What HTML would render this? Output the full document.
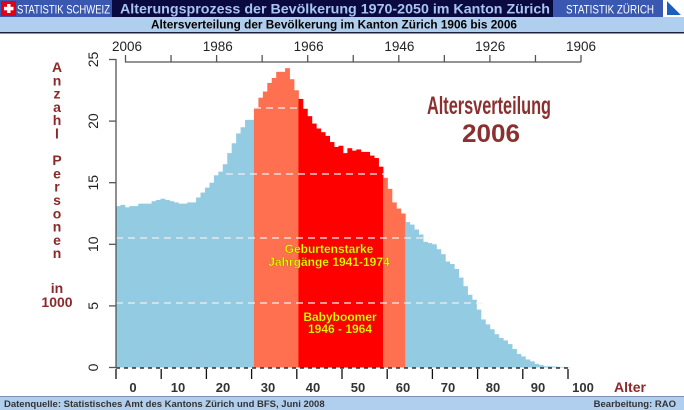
<!DOCTYPE html>
<html><head><meta charset="utf-8"><style>
body{margin:0;width:684px;height:410px;overflow:hidden;background:#fff;font-family:"Liberation Sans",sans-serif;}
svg{display:block}
</style></head><body>
<svg id="s" width="684" height="410" xmlns="http://www.w3.org/2000/svg" font-family="Liberation Sans, sans-serif">
<rect x="0" y="0" width="684" height="17" fill="#0a0a40"/>
<rect x="0" y="0" width="112" height="17" fill="#3a58b0"/>
<rect x="1" y="1" width="15" height="15" fill="#e0001a"/>
<rect x="7" y="4" width="3.5" height="9" fill="#fff"/><rect x="4" y="6.8" width="9.5" height="3.5" fill="#fff"/>
<text x="17" y="13.5" font-size="12" fill="#fff" textLength="93" lengthAdjust="spacingAndGlyphs">STATISTIK SCHWEIZ</text>
<text x="120" y="13.5" font-size="14" font-weight="bold" fill="#a8c4f0" textLength="430" lengthAdjust="spacingAndGlyphs">Alterungsprozess der Bevölkerung 1970-2050 im Kanton Zürich</text>
<rect x="553" y="0" width="110" height="17" fill="#3a58b0"/>
<text x="566" y="13.5" font-size="12" fill="#fff" textLength="88" lengthAdjust="spacingAndGlyphs">STATISTIK ZÜRICH</text>
<rect x="663" y="0" width="21" height="17" fill="#fff"/>
<polygon points="667,1 681,15 667,15" fill="#1a5fc0"/>
<polygon points="667,1 681,1 681,15" fill="#fff"/>
<rect x="0" y="17" width="684" height="15" fill="#b0cfee"/>
<text x="334" y="28.5" font-size="12" font-weight="bold" fill="#000" text-anchor="middle" textLength="366" lengthAdjust="spacingAndGlyphs">Altersverteilung der Bevölkerung im Kanton Zürich 1906 bis 2006</text>
<rect x="0" y="32" width="684" height="1.5" fill="#202040"/>
<g id="bars"></g>
<g id="ax" stroke="#555" stroke-width="1.3" fill="none"></g>
<g font-size="14" fill="#222" id="lab"></g>
<g fill="#8b2a2a" font-weight="bold" font-size="14" text-anchor="middle" id="yl"></g>
<text x="427" y="114" font-size="25" font-weight="bold" fill="#8b3030" textLength="124" lengthAdjust="spacingAndGlyphs">Altersverteilung</text>
<text x="491" y="142" font-size="25" font-weight="bold" fill="#8b3030" text-anchor="middle" textLength="58" lengthAdjust="spacingAndGlyphs">2006</text>
<g font-size="12" font-weight="bold" fill="#ffff00" text-anchor="middle" stroke="#806000" stroke-width="0.3">
<text x="329" y="253">Geburtenstarke</text>
<text x="329" y="266">Jahrgänge 1941-1974</text>
<text x="340" y="321">Babyboomer</text>
<text x="340" y="333">1946 - 1964</text>
</g>
<text x="630" y="392" font-size="14" font-weight="bold" fill="#8b2a2a" text-anchor="middle">Alter</text>
<rect x="0" y="396" width="684" height="14" fill="#b0cfee"/>
<rect x="0" y="396" width="684" height="1" fill="#8090b0"/>
<text x="4" y="407" font-size="9.5" font-weight="bold" fill="#333">Datenquelle: Statistisches Amt des Kantons Zürich und BFS, Juni  2008</text>
<text x="676" y="407" font-size="9.5" font-weight="bold" fill="#333" text-anchor="end">Bearbeitung: RAO</text>
</svg>
<script>
var NS="http://www.w3.org/2000/svg";
function el(p,t,a,txt){var e=document.createElementNS(NS,t);for(var k in a)e.setAttribute(k,a[k]);if(txt!==undefined)e.textContent=txt;p.appendChild(e);return e;}
var v=[13.1,13.2,13.0,13.1,13.1,13.3,13.3,13.3,13.5,13.6,13.7,13.6,13.5,13.4,13.3,13.3,13.4,13.4,13.8,14.2,14.6,15.0,15.6,15.9,16.5,17.4,18.2,19.0,19.5,20.1,20.1,
21.1,21.9,22.4,23.1,23.5,24.0,24.0,24.3,23.4,22.5,
21.8,21.0,20.4,19.8,19.4,19.1,18.8,18.3,17.9,18.0,17.4,17.8,17.6,17.7,17.5,17.5,17.2,17.0,16.3,
15.4,14.5,13.4,12.9,12.5,
11.8,11.6,11.2,10.8,10.2,10.1,10.0,9.6,9.2,8.6,8.4,8.0,7.3,6.6,5.9,5.5,4.7,3.9,3.5,3.1,2.7,2.4,2.2,1.9,1.5,1.1,0.9,0.65,0.5,0.3,0.2,0.1,0.1,0.08,0.05,0.05,0.03];
var X0=116,W=4.45,Y0=367.5,U=12.32;
var b=document.getElementById('bars');
for(var i=0;i<v.length;i++){var c='#92cbe2';if(i>=31&&i<=40)c='#ff7050';else if(i>=41&&i<=59)c='#ff0000';else if(i>=60&&i<=64)c='#ff7050';
var h=v[i]*U;el(b,'rect',{x:X0+i*W,y:Y0-h,width:W+0.4,height:h,fill:c});}
function dash(y,x1,x2){el(b,'line',{x1:x1,x2:x2,y1:y,y2:y,stroke:'#f0f0f0','stroke-width':1.3,'stroke-dasharray':'7,5'});}
dash(108,254,300);dash(174,226,384);dash(238,116,430);dash(303,116,488);
el(b,'line',{x1:116,x2:568,y1:368,y2:368,stroke:'#333','stroke-width':1.5,'stroke-dasharray':'4,4'});
var ax=document.getElementById('ax');
el(ax,'line',{x1:116,y1:59,x2:116,y2:368});
for(var k=0;k<=5;k++){var y=Y0-k*5*U;el(ax,'line',{x1:109,x2:116,y1:y,y2:y});}
el(ax,'line',{x1:125,x2:581,y1:62,y2:62});
for(var k=0;k<=10;k++){var x=125.5+k*45.55;el(ax,'line',{x1:x,x2:x,y1:55,y2:62});}
for(var k=0;k<=10;k++){var x=116+k*45.2;el(ax,'line',{x1:x,x2:x,y1:369,y2:379,stroke:'#111'});}
var lab=document.getElementById('lab');
var yrs=['2006','1986','1966','1946','1926','1906'];
for(var k=0;k<6;k++)el(lab,'text',{x:127+k*90.8,y:51,'text-anchor':'middle','font-size':13.5},yrs[k]);
for(var k=0;k<=10;k++)el(lab,'text',{x:133+k*45,y:392,'text-anchor':'middle','font-weight':'bold','font-size':13,fill:'#333'},String(k*10));
for(var k=0;k<=5;k++){var y=Y0-k*5*U;el(lab,'text',{x:0,y:0,'text-anchor':'middle',transform:'translate(98,'+y+') rotate(-90)','font-size':14},String(k*5));}
var yl=document.getElementById('yl');
var letters=['A','n','z','a','h','l','','P','e','r','s','o','n','e','n'];
for(var i=0;i<letters.length;i++)if(letters[i])el(yl,'text',{x:57,y:72+i*13.3},letters[i]);
el(yl,'text',{x:57,y:293},'in');el(yl,'text',{x:57,y:307},'1000');
</script>
</body></html>
